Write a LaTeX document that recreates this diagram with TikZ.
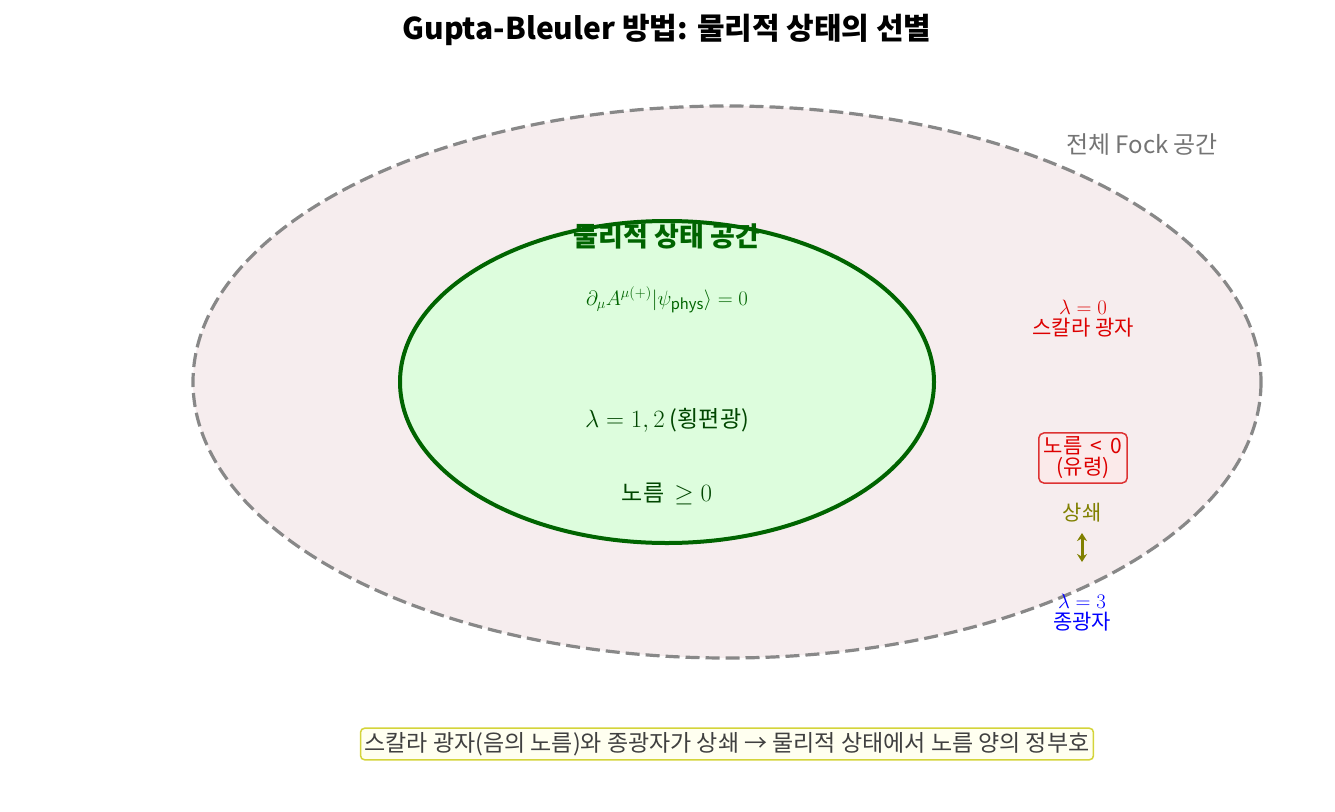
\documentclass[tikz,border=0pt]{standalone}
\usepackage{fontspec}
\setmainfont{Noto Sans CJK KR}
\usetikzlibrary{arrows.meta}
\definecolor{outerfill}{HTML}{F6EDEE}
\definecolor{outerline}{HTML}{888888}
\definecolor{innerfill}{HTML}{DDFDDD}
\definecolor{innerline}{HTML}{006400}
\definecolor{ghostred}{HTML}{DD0000}
\definecolor{ghostfill}{HTML}{FBEAEA}
\definecolor{ghostline}{HTML}{DD3333}
\definecolor{oliv}{HTML}{808000}
\definecolor{notefill}{HTML}{FFFFF0}
\definecolor{noteline}{HTML}{D4D43A}
\tikzset{
  lbl/.style={align=center, inner sep=1pt, font=\fontsize{21}{21}\selectfont},
}
\begin{document}
\begin{tikzpicture}[x=1pt,y=-1pt]
\useasboundingbox (0,0) rectangle (1335,811);
\node[font=\fontsize{30}{34}\selectfont\bfseries] (title) at (667,30) {Gupta-Bleuler 방법: 물리적 상태의 선별};
\draw[outerline, fill=outerfill, line width=3.2pt, dash pattern=on 14pt off 6pt] (727,382) ellipse [x radius=534, y radius=276];
\node[outerline!85!black, font=\fontsize{24}{26}\selectfont] (fock) at (1142,145) {전체 Fock 공간};
\draw[innerline, fill=innerfill, line width=4pt] (667,382) ellipse [x radius=267, y radius=161];
\node[innerline, font=\fontsize{27}{30}\selectfont\bfseries] (phys) at (667,236) {물리적 상태 공간};
\node[innerline, font=\fontsize{21}{23}\selectfont] (cond) at (667,300) {$\partial_\mu A^{\mu(+)}|\psi_{\mathrm{phys}}\rangle = 0$};
\node[innerline!70!black, font=\fontsize{23}{25}\selectfont] (trans) at (667,420) {$\lambda = 1, 2$ (횡편광)};
\node[innerline!70!black, font=\fontsize{23}{25}\selectfont] (normpos) at (667,494) {노름 \ $\geq 0$};
\node[lbl, ghostred] (scalar) at (1083,319) {$\lambda = 0$\\스칼라 광자};
\node[lbl, ghostred, draw=ghostline, fill=ghostfill, line width=1.5pt, rounded corners=5pt, inner xsep=5pt, inner ysep=4pt] (ghost) at (1083,458) {노름 \,<\, 0\\(유령)};
\node[lbl, oliv] (cancel) at (1082,513) {상쇄};
\coordinate (a1) at (1082,533);
\coordinate (a2) at (1082,562);
\draw[oliv, line width=3pt, {Stealth[length=8pt,width=10pt]}-{Stealth[length=8pt,width=10pt]}] (a1) -- (a2);
\node[lbl, blue] (long) at (1082,613) {$\lambda = 3$\\종광자};
\node[draw=noteline, fill=notefill, line width=1.5pt, rounded corners=4pt, inner sep=4pt, text=black!75, font=\fontsize{23}{25}\selectfont] (note) at (727,744) {스칼라 광자(음의 노름)와 종광자가 상쇄 → 물리적 상태에서 노름 양의 정부호};
\end{tikzpicture}
\end{document}
